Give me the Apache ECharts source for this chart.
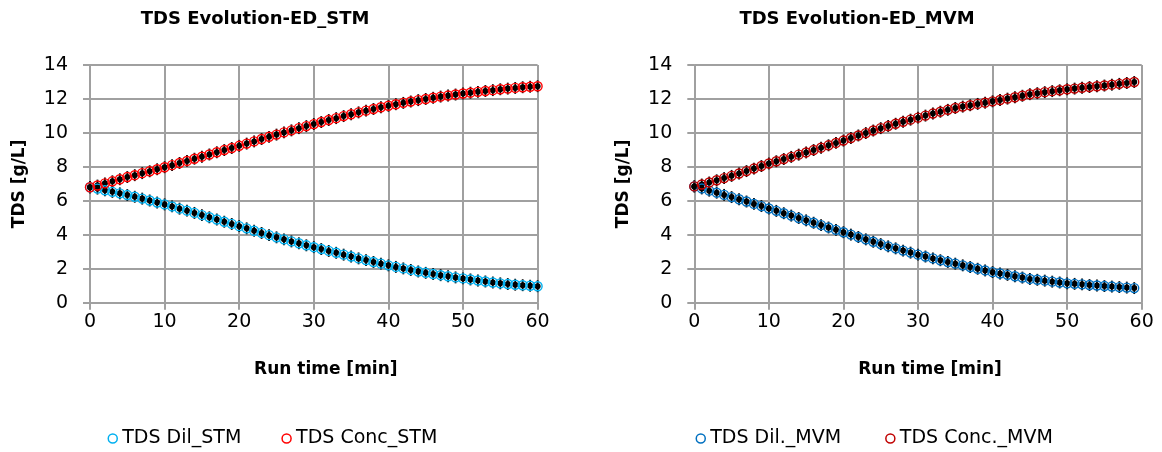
<!DOCTYPE html>
<html>
<head>
<meta charset="utf-8">
<script src="https://cdn.jsdelivr.net/npm/echarts@6/dist/echarts.min.js"></script>
<style>
  html, body { margin: 0; padding: 0; background: #fff; }
  #main { width: 1162px; height: 452px; }
</style>
</head>
<body>
<div id="main"></div>
<script>
// run time, one point a minute
var timeStm = [];
for (var i = 0; i <= 60; i++) timeStm.push(i);
var timeMvm = [];
for (var j = 0; j <= 59; j++) timeMvm.push(j);

// TDS values [g/L]
var stmDil = [
    6.80, 6.72, 6.62, 6.53, 6.44, 6.34,
    6.24, 6.13, 6.02, 5.90, 5.79,
    5.67, 5.54, 5.42, 5.29, 5.16,
    5.03, 4.90, 4.77, 4.64, 4.51,
    4.38, 4.24, 4.11, 3.98, 3.85,
    3.73, 3.61, 3.50, 3.38, 3.27,
    3.16, 3.05, 2.94, 2.83, 2.72,
    2.61, 2.51, 2.40, 2.30, 2.20,
    2.11, 2.02, 1.93, 1.84, 1.76,
    1.69, 1.62, 1.56, 1.49, 1.43,
    1.37, 1.31, 1.25, 1.19, 1.14,
    1.10, 1.06, 1.03, 1.00, 0.97
];
var stmConc = [
    6.80, 6.90, 7.03, 7.15, 7.27, 7.40,
    7.51, 7.63, 7.74, 7.86, 7.98,
    8.10, 8.23, 8.35, 8.48, 8.60,
    8.73, 8.86, 8.99, 9.11, 9.24,
    9.37, 9.50, 9.64, 9.77, 9.90,
    10.03, 10.15, 10.28, 10.40, 10.52,
    10.64, 10.76, 10.87, 10.99, 11.10,
    11.21, 11.31, 11.41, 11.51, 11.60,
    11.69, 11.77, 11.85, 11.93, 12.00,
    12.07, 12.14, 12.20, 12.26, 12.32,
    12.37, 12.42, 12.47, 12.52, 12.57,
    12.61, 12.65, 12.69, 12.72, 12.75
];
var mvmDil = [
    6.85, 6.73, 6.60, 6.48, 6.35, 6.22,
    6.09, 5.96, 5.82, 5.69, 5.55,
    5.41, 5.27, 5.13, 4.99, 4.85,
    4.71, 4.57, 4.43, 4.29, 4.15,
    4.01, 3.87, 3.73, 3.59, 3.45,
    3.32, 3.20, 3.07, 2.95, 2.83,
    2.72, 2.61, 2.50, 2.40, 2.30,
    2.20, 2.10, 2.00, 1.90, 1.80,
    1.72, 1.64, 1.56, 1.48, 1.40,
    1.35, 1.30, 1.24, 1.19, 1.14,
    1.11, 1.08, 1.04, 1.01, 0.98,
    0.95, 0.92, 0.89, 0.86
];
var mvmConc = [
    6.85, 6.96, 7.08, 7.21, 7.34, 7.47,
    7.61, 7.75, 7.90, 8.05, 8.20,
    8.33, 8.46, 8.59, 8.72, 8.85,
    8.99, 9.13, 9.27, 9.41, 9.55,
    9.70, 9.85, 9.99, 10.14, 10.28,
    10.41, 10.54, 10.66, 10.78, 10.90,
    11.02, 11.14, 11.25, 11.36, 11.47,
    11.55, 11.63, 11.71, 11.78, 11.86,
    11.94, 12.02, 12.10, 12.19, 12.28,
    12.34, 12.40, 12.46, 12.51, 12.57,
    12.61, 12.66, 12.70, 12.75, 12.79,
    12.84, 12.89, 12.94, 13.00
];
var yErr = 0.35;   // error bar half height [g/L]
var xErr = 0.3;    // error bar half width [min]

var yTicks = [0, 2, 4, 6, 8, 10, 12, 14];
var xTicks = [0, 10, 20, 30, 40, 50, 60];

var titles = ['TDS Evolution-ED_STM', 'TDS Evolution-ED_MVM'];
var names = [['TDS Dil_STM', 'TDS Conc_STM'], ['TDS Dil._MVM', 'TDS Conc._MVM']];
var colors = [['#00B0F0', '#FF0000'], ['#0070C0', '#C00000']];

var FONT = 'DejaVu Sans';
var GRIDC = '#a0a0a0';

function pairs(xs, ys) {
    return xs.map(function (x, k) { return [x, ys[k]]; });
}

// black error bars with a dot, drawn under the rings
function errorSeries(idx, data) {
    return {
        type: 'custom',
        xAxisIndex: idx,
        yAxisIndex: idx,
        silent: true,
        z: 2,
        data: data,
        renderItem: function (params, api) {
            var x = api.value(0), y = api.value(1);
            var c = api.coord([x, y]);
            var top = api.coord([x, y + yErr]);
            var bot = api.coord([x, y - yErr]);
            var l = api.coord([x - xErr, y]);
            var r = api.coord([x + xErr, y]);
            var st = { stroke: '#000', lineWidth: 1.8 };
            return {
                type: 'group',
                children: [
                    { type: 'line', shape: { x1: top[0], y1: top[1], x2: bot[0], y2: bot[1] }, style: st },
                    { type: 'line', shape: { x1: l[0], y1: l[1], x2: r[0], y2: r[1] }, style: st },
                    { type: 'circle', shape: { cx: c[0], cy: c[1], r: 3 }, style: { fill: '#000' } }
                ]
            };
        }
    };
}

function ringSeries(idx, name, color, data) {
    return {
        name: name,
        type: 'scatter',
        xAxisIndex: idx,
        yAxisIndex: idx,
        symbol: 'circle',
        symbolSize: 9,
        z: 3,
        itemStyle: { color: 'rgba(0,0,0,0)', borderColor: color, borderWidth: 1.4, opacity: 1 },
        data: data
    };
}

var series = [];
var sets = [[stmDil, stmConc, timeStm], [mvmDil, mvmConc, timeMvm]];
sets.forEach(function (s, idx) {
    var dil = pairs(s[2], s[0]);
    var conc = pairs(s[2], s[1]);
    series.push(errorSeries(idx, dil));
    series.push(ringSeries(idx, names[idx][0], colors[idx][0], dil));
    series.push(errorSeries(idx, conc));
    series.push(ringSeries(idx, names[idx][1], colors[idx][1], conc));
});

function xAxis(idx) {
    return {
        type: 'value', gridIndex: idx, min: 0, max: 60, interval: 10,
        name: 'Run time [min]', nameLocation: 'middle', nameGap: 58,
        nameTextStyle: { fontFamily: FONT, fontWeight: 'bold', fontSize: 17, color: '#000', padding: [0, 0, 0, 24] },
        axisLine: { lineStyle: { color: GRIDC, width: 2 } },
        axisTick: { show: true, length: 7, lineStyle: { color: GRIDC, width: 2 } },
        axisLabel: { fontFamily: FONT, fontSize: 19, color: '#000', margin: 10,
            formatter: function (v) { return xTicks.indexOf(v) >= 0 ? String(v) : ''; } },
        splitLine: { show: true, lineStyle: { color: GRIDC, width: 2 } }
    };
}
function yAxis(idx) {
    return {
        type: 'value', gridIndex: idx, min: 0, max: 14, interval: 2,
        name: 'TDS [g/L]', nameLocation: 'middle', nameGap: 62, nameRotate: 90,
        nameTextStyle: { fontFamily: FONT, fontWeight: 'bold', fontSize: 17, color: '#000' },
        axisLine: { show: true, lineStyle: { color: GRIDC, width: 2 } },
        axisTick: { show: true, length: 7, lineStyle: { color: GRIDC, width: 2 } },
        axisLabel: { fontFamily: FONT, fontSize: 19, color: '#000', margin: 22,
            formatter: function (v) { return yTicks.indexOf(v) >= 0 ? String(v) : ''; } },
        splitLine: { show: true, lineStyle: { color: GRIDC, width: 2 } }
    };
}

function legend(idx, left, gap) {
    return {
        left: left, top: 424,
        icon: 'circle', itemWidth: 9, itemHeight: 9, itemGap: gap, itemTextGap: 13,
        textStyle: { fontFamily: FONT, fontSize: 19, color: '#000' },
        data: names[idx].map(function (n, k) {
            return { name: n, itemStyle: { color: '#fff', borderColor: colors[idx][k], borderWidth: 1.5 } };
        })
    };
}

var myChart = echarts.init(document.getElementById('main'), null, { renderer: 'canvas' });
var option = {
    backgroundColor: '#fff',
    animation: false,
    title: [
        { text: titles[0], left: 250, top: 5, textAlign: 'center',
          textStyle: { fontFamily: FONT, fontWeight: 'bold', fontSize: 18, color: '#000' } },
        { text: titles[1], left: 852, top: 5, textAlign: 'center',
          textStyle: { fontFamily: FONT, fontWeight: 'bold', fontSize: 18, color: '#000' } }
    ],
    grid: [
        { left: 90, right: 624.4, top: 65, bottom: 149.3 },
        { left: 694.3, right: 20.3, top: 65, bottom: 149.3 }
    ],
    xAxis: [xAxis(0), xAxis(1)],
    yAxis: [yAxis(0), yAxis(1)],
    legend: [legend(0, 102.5, 40), legend(1, 690.5, 44)],
    series: series
};
myChart.setOption(option);
</script>
</body>
</html>
